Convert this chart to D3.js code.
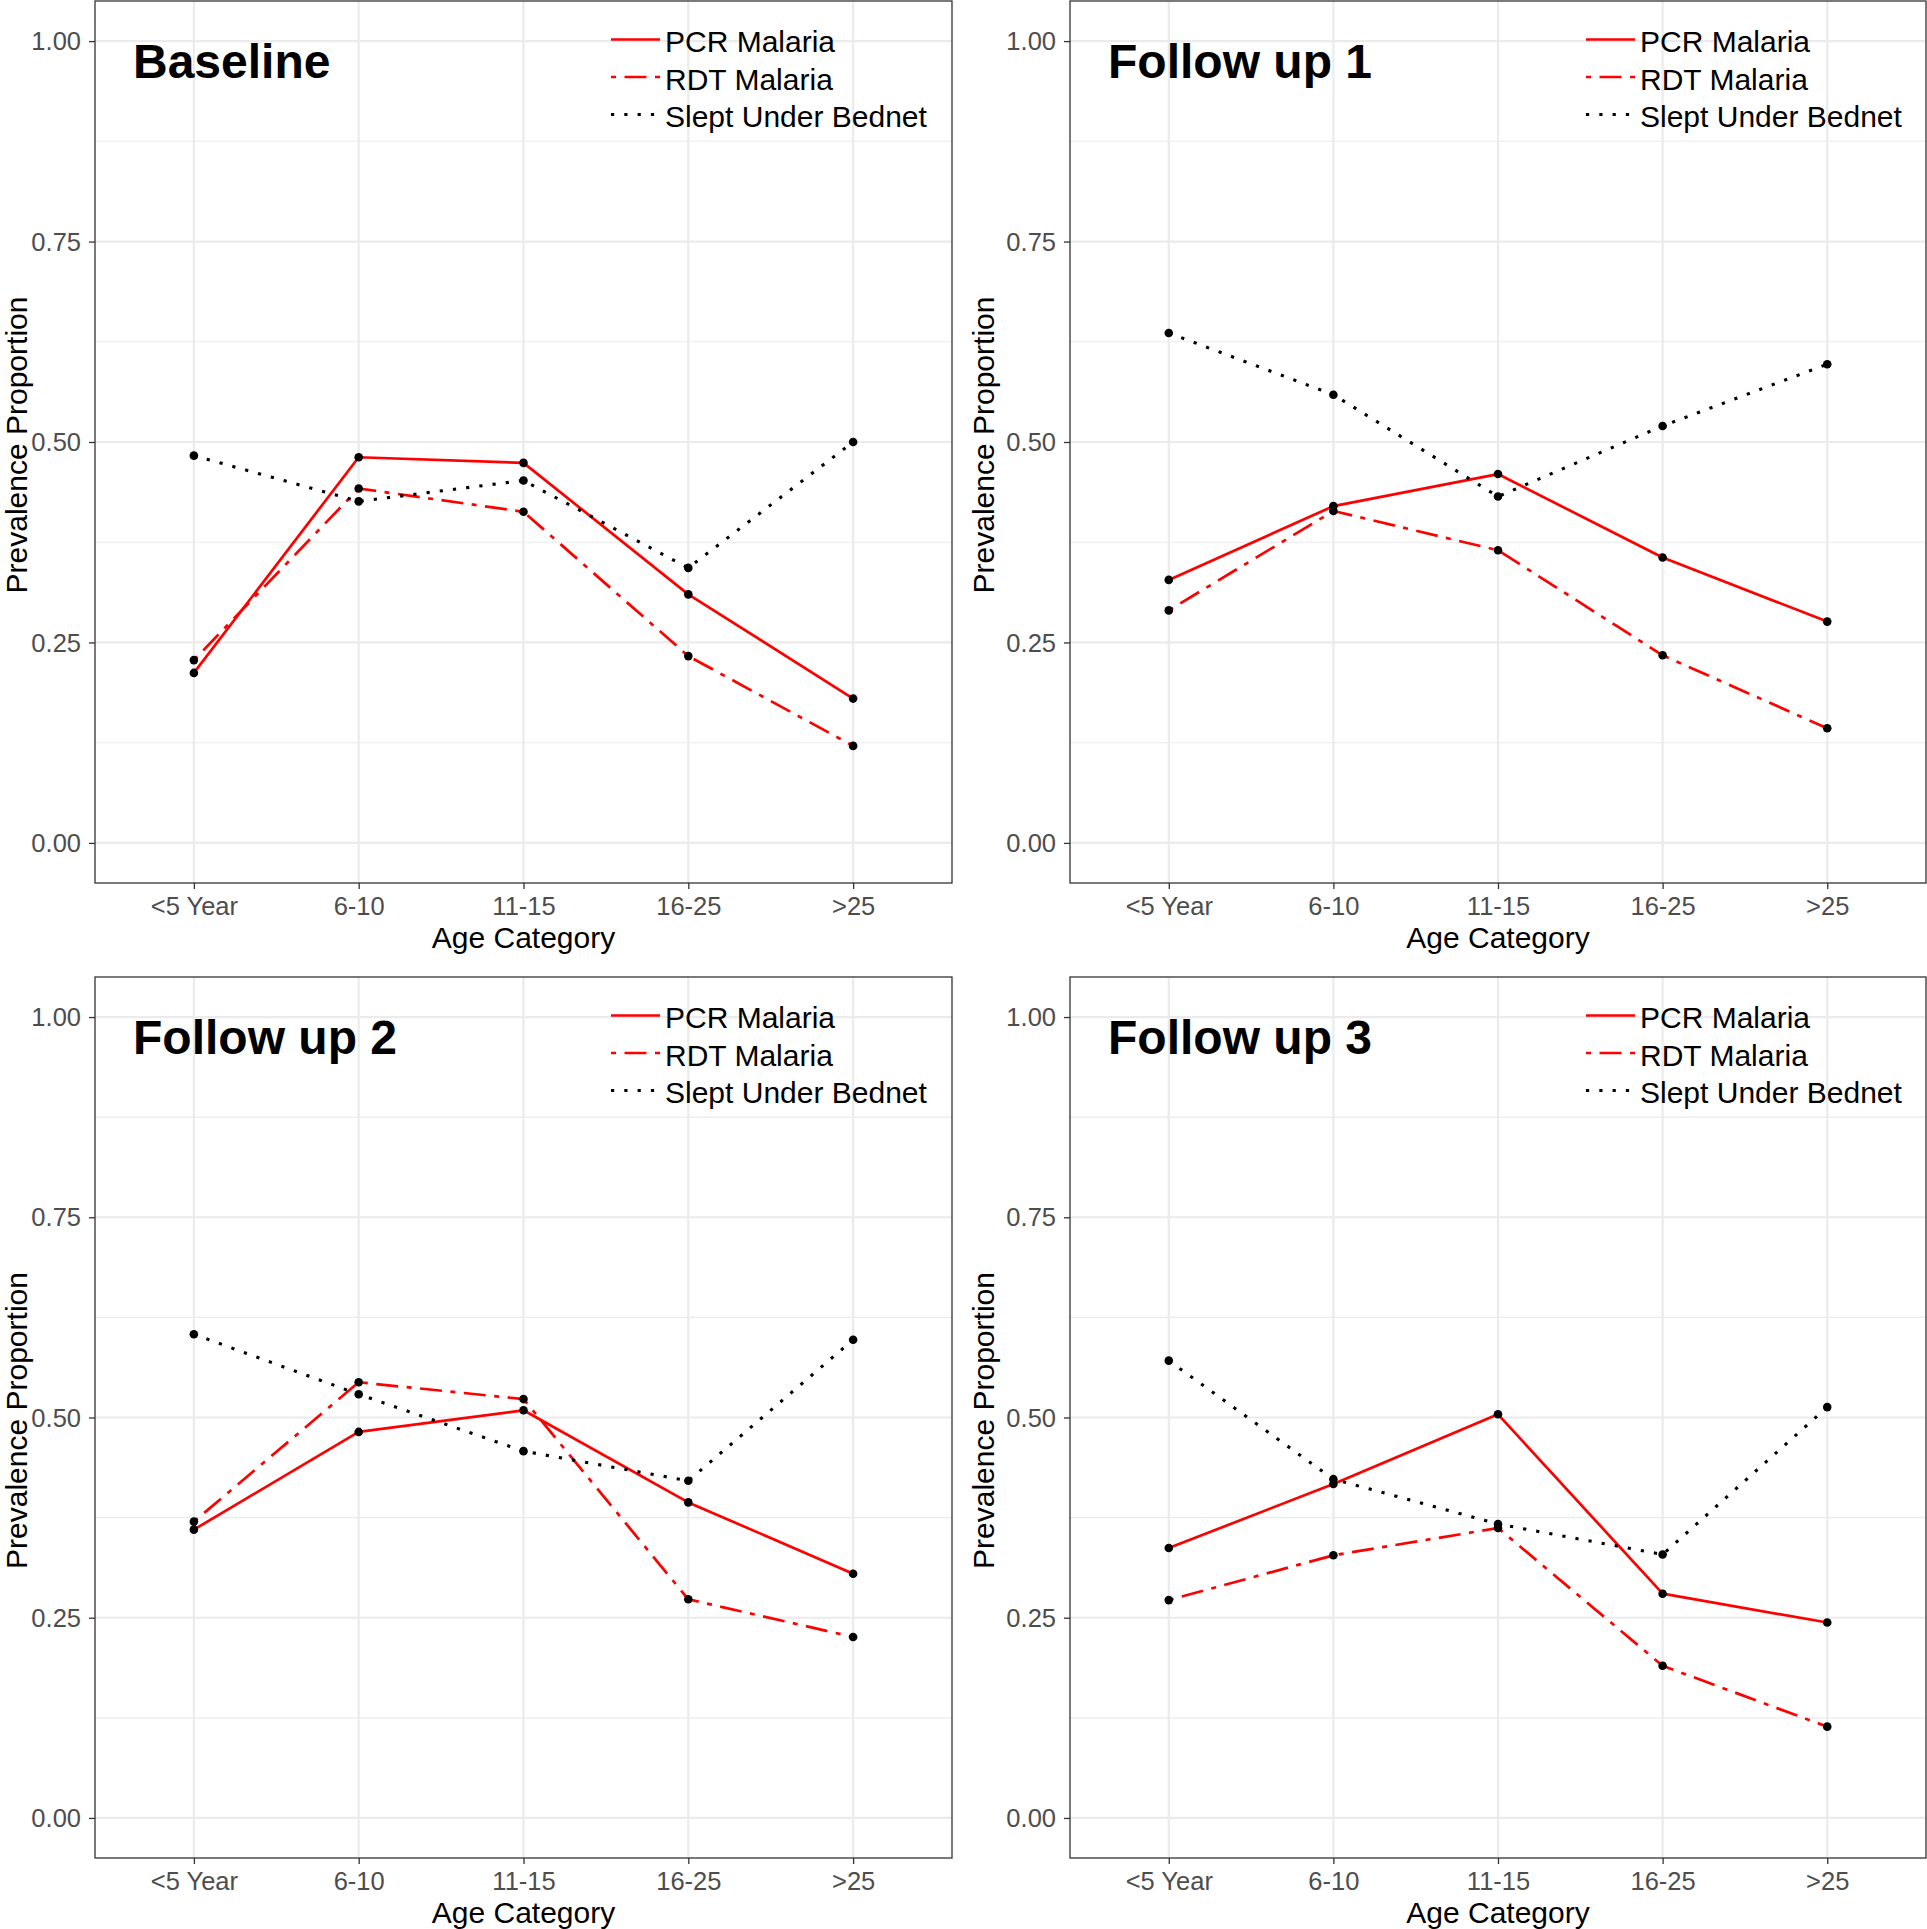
<!DOCTYPE html>
<html>
<head>
<meta charset="utf-8">
<script src="https://cdn.jsdelivr.net/npm/d3@7"></script>
<style>
  html, body { margin: 0; padding: 0; background: #fff; }
  svg { display: block; font-family: "Liberation Sans", Arial, sans-serif; }
</style>
</head>
<body>
<svg id="chart" width="1927" height="1929"></svg>
<script>
// ---- data ----
const categories = ["<5 Year", "6-10", "11-15", "16-25", ">25"];
const panelTitles = ["Baseline", "Follow up 1", "Follow up 2", "Follow up 3"];
const seriesNames = ["PCR Malaria", "RDT Malaria", "Slept Under Bednet"];
const yTicks = [0, 0.25, 0.5, 0.75, 1];
const yMinor = [0.125, 0.375, 0.625, 0.875];

// values per panel: Baseline, Follow up 1, Follow up 2, Follow up 3
const pcrMalaria = [
  [0.212, 0.481, 0.474, 0.310, 0.180],
  [0.328, 0.420, 0.460, 0.356, 0.276],
  [0.360, 0.482, 0.509, 0.394, 0.305],
  [0.337, 0.417, 0.504, 0.280, 0.244]
];
const rdtMalaria = [
  [0.228, 0.442, 0.413, 0.233, 0.121],
  [0.290, 0.414, 0.365, 0.234, 0.143],
  [0.370, 0.544, 0.523, 0.273, 0.226],
  [0.272, 0.328, 0.362, 0.190, 0.114]
];
const sleptUnderBednet = [
  [0.483, 0.426, 0.452, 0.343, 0.500],
  [0.636, 0.559, 0.432, 0.520, 0.597],
  [0.604, 0.529, 0.458, 0.421, 0.597],
  [0.571, 0.423, 0.367, 0.329, 0.513]
];

// ---- styles ----
const seriesStyle = [
  { color: "#FF0000", width: 2.7, dash: null },
  { color: "#FF0000", width: 2.7, dash: "5,8.5,22,8.5" },
  { color: "#000000", width: 3.1, dash: "3.2,10.1" }
];

const panels = [
  { x0: 95,   x1: 952,  y0: 1,   y1: 883,  yt: 27 },
  { x0: 1070, x1: 1926, y0: 1,   y1: 883,  yt: 994 },
  { x0: 95,   x1: 952,  y0: 977, y1: 1858, yt: 27 },
  { x0: 1070, x1: 1926, y0: 977, y1: 1858, yt: 994 }
];

const svg = d3.select("#chart");
svg.append("rect").attr("width", 1927).attr("height", 1929).attr("fill", "#fff");

panels.forEach((p, i) => {
  const g = svg.append("g");
  const x = d3.scalePoint().domain(categories).range([p.x0, p.x1]).padding(0.6);
  const y = d3.scaleLinear().domain([-0.05, 1.05]).range([p.y1, p.y0]);

  // panel background
  g.append("rect").attr("x", p.x0).attr("y", p.y0)
    .attr("width", p.x1 - p.x0).attr("height", p.y1 - p.y0).attr("fill", "#fff");

  // grid
  g.selectAll(".gminor").data(yMinor).join("line")
    .attr("x1", p.x0).attr("x2", p.x1)
    .attr("y1", d => y(d)).attr("y2", d => y(d))
    .attr("stroke", "#EBEBEB").attr("stroke-width", 1.1);
  g.selectAll(".gmajor").data(yTicks).join("line")
    .attr("x1", p.x0).attr("x2", p.x1)
    .attr("y1", d => y(d)).attr("y2", d => y(d))
    .attr("stroke", "#EBEBEB").attr("stroke-width", 2.2);
  g.selectAll(".gvert").data(categories).join("line")
    .attr("x1", d => x(d)).attr("x2", d => x(d))
    .attr("y1", p.y0).attr("y2", p.y1)
    .attr("stroke", "#EBEBEB").attr("stroke-width", 2.2);

  // lines
  const data = [pcrMalaria[i], rdtMalaria[i], sleptUnderBednet[i]];
  const line = d3.line().x((d, j) => x(categories[j])).y(d => y(d));
  data.forEach((vals, s) => {
    const path = g.append("path").datum(vals)
      .attr("d", line)
      .attr("fill", "none")
      .attr("stroke", seriesStyle[s].color)
      .attr("stroke-width", seriesStyle[s].width)
      .attr("stroke-linejoin", "round");
    if (seriesStyle[s].dash) path.attr("stroke-dasharray", seriesStyle[s].dash);
  });
  // points
  data.forEach(vals => {
    g.selectAll(null).data(vals).join("circle")
      .attr("cx", (d, j) => x(categories[j]))
      .attr("cy", d => y(d))
      .attr("r", 4.3)
      .attr("fill", "#000");
  });

  // border
  g.append("rect").attr("x", p.x0).attr("y", p.y0)
    .attr("width", p.x1 - p.x0).attr("height", p.y1 - p.y0)
    .attr("fill", "none").attr("stroke", "#333333").attr("stroke-width", 1.3);

  // axes
  const ax = g.append("g").attr("transform", `translate(${p.x0},0)`)
    .call(d3.axisLeft(y).tickValues(yTicks).tickFormat(d3.format(".2f")).tickSize(6).tickPadding(8));
  const bx = g.append("g").attr("transform", `translate(0,${p.y1})`)
    .call(d3.axisBottom(x).tickSize(6).tickPadding(6));
  [ax, bx].forEach(a => {
    a.select(".domain").remove();
    a.selectAll(".tick line").attr("stroke", "#333333").attr("stroke-width", 1.3);
    a.selectAll(".tick text").attr("fill", "#4D4D4D")
      .style("font-size", "25.5px").style("font-family", "'Liberation Sans', Arial, sans-serif");
  });
  ax.selectAll(".tick text").attr("dy", "0.34em");
  bx.selectAll(".tick text").attr("dy", "0.79em");

  // axis titles
  g.append("text").attr("x", (p.x0 + p.x1) / 2).attr("y", p.y1 + 65)
    .attr("text-anchor", "middle").attr("font-size", 30).attr("fill", "#000")
    .text("Age Category");
  g.append("text")
    .attr("transform", `translate(${p.yt},${(p.y0 + p.y1) / 2 + 3}) rotate(-90)`)
    .attr("text-anchor", "middle").attr("font-size", 30).attr("fill", "#000")
    .text("Prevalence Proportion");

  // panel title
  g.append("text").attr("x", p.x0 + 38).attr("y", p.y0 + 77)
    .attr("font-size", 48).attr("font-weight", "bold").attr("fill", "#000")
    .text(panelTitles[i]);

  // legend
  const lg = g.append("g");
  seriesNames.forEach((name, s) => {
    const cy = p.y0 + 40.5 + s * 37.5;
    const l = lg.append("line")
      .attr("x1", p.x0 + 516).attr("x2", p.x0 + 565)
      .attr("y1", cy - 2).attr("y2", cy - 2)
      .attr("stroke", seriesStyle[s].color).attr("stroke-width", seriesStyle[s].width);
    if (seriesStyle[s].dash) l.attr("stroke-dasharray", seriesStyle[s].dash);
    lg.append("text").attr("x", p.x0 + 570).attr("y", cy + 10.5)
      .attr("font-size", 30).attr("fill", "#000").text(name);
  });
});
</script>
</body>
</html>
